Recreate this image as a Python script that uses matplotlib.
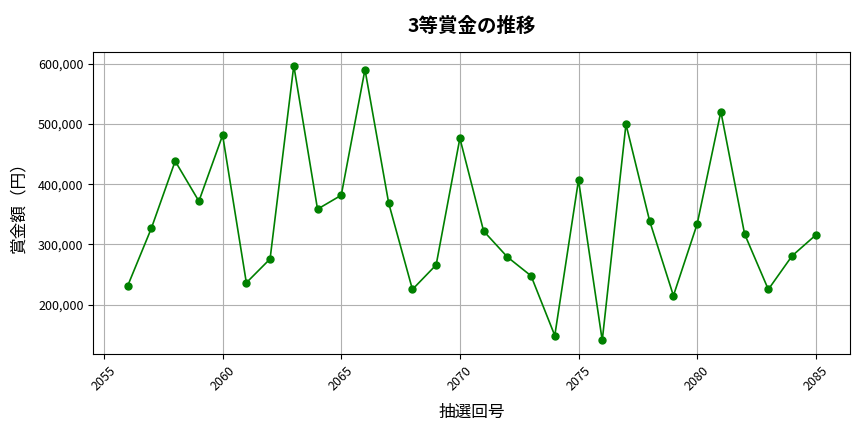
import matplotlib
matplotlib.use('Agg')
from matplotlib import pyplot as plt
from matplotlib.ticker import FuncFormatter

plt.rcParams['font.family'] = ['Noto Sans CJK JP', 'DejaVu Sans']

draws = list(range(2056, 2086))
prizes = [231400, 327300, 438500, 371900, 481500, 236400, 276000, 597200,
          358700, 381800, 590600, 368600, 225300, 266100, 476500, 322300,
          279300, 247900, 148700, 407100, 140500, 499700, 338800, 214900,
          333900, 520700, 317400, 225300, 281000, 315700]

fig, ax = plt.subplots(figsize=(8.64, 4.32), dpi=100)
ax.plot(draws, prizes, color='green', marker='o', markersize=5, linewidth=1.2)
ax.set_title('3等賞金の推移', fontsize=14, fontweight='bold', pad=14)
ax.set_xlabel('抽選回号', fontsize=12, labelpad=8)
ax.set_ylabel('賞金額（円）', fontsize=12, labelpad=8)
ax.yaxis.set_major_formatter(FuncFormatter(lambda v, p: f'{int(v):,}'))
ax.tick_params(axis='x', rotation=45, labelsize=9)
ax.tick_params(axis='y', labelsize=9)
ax.grid(True, color='#b0b0b0', linewidth=0.8)
plt.subplots_adjust(left=0.108, right=0.984, top=0.88, bottom=0.18)
plt.savefig('out.png')
